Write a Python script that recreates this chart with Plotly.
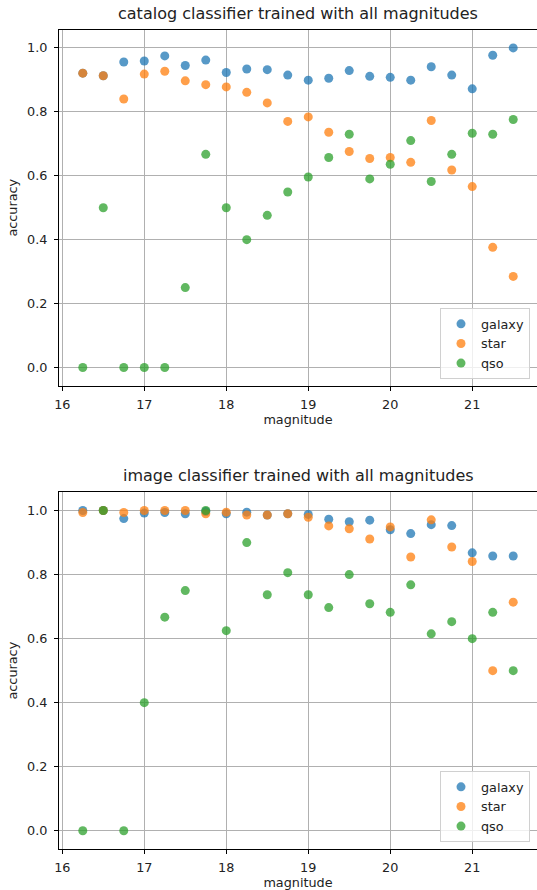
import plotly.graph_objects as go

magnitudes = [16.25, 16.5, 16.75, 17.0, 17.25, 17.5, 17.75, 18.0, 18.25, 18.5, 18.75,
              19.0, 19.25, 19.5, 19.75, 20.0, 20.25, 20.5, 20.75, 21.0, 21.25, 21.5]

cat_galaxy = [0.921, 0.913, 0.956, 0.959, 0.975, 0.945, 0.962, 0.923, 0.934, 0.932, 0.915,
              0.899, 0.905, 0.929, 0.911, 0.908, 0.899, 0.941, 0.915, 0.872, 0.977, 1.0]
cat_star = [0.921, 0.913, 0.840, 0.918, 0.927, 0.897, 0.885, 0.878, 0.861, 0.828, 0.770,
            0.784, 0.736, 0.676, 0.654, 0.657, 0.642, 0.773, 0.618, 0.566, 0.376, 0.285]
cat_qso = [0.0, 0.5, 0.0, 0.0, 0.0, 0.25, 0.667, 0.5, 0.4, 0.476, 0.549,
           0.596, 0.657, 0.730, 0.590, 0.636, 0.710, 0.582, 0.667, 0.733, 0.730, 0.776]

img_galaxy = [1.0, 1.0, 0.975, 0.992, 0.994, 0.990, 0.997, 0.990, 0.995, 0.986, 0.990,
              0.988, 0.973, 0.965, 0.970, 0.940, 0.928, 0.956, 0.953, 0.868, 0.858, 0.858]
img_star = [0.994, 1.0, 0.994, 1.0, 1.0, 1.0, 0.990, 0.995, 0.986, 0.986, 0.990,
            0.979, 0.952, 0.943, 0.911, 0.949, 0.855, 0.971, 0.886, 0.841, 0.500, 0.714]
img_qso = [0.0, 1.0, 0.0, 0.4, 0.667, 0.75, 1.0, 0.625, 0.9, 0.737, 0.806,
           0.737, 0.697, 0.8, 0.709, 0.682, 0.768, 0.615, 0.653, 0.6, 0.682, 0.5]

series_names = ["galaxy", "star", "qso"]
titles = ["catalog classifier trained with all magnitudes",
          "image classifier trained with all magnitudes"]

colors = ["#1f77b4", "#ff7f0e", "#2ca02c"]
FONT = "DejaVu Sans"
W, H = 537, 890

fig = go.Figure()

panels = [
    ("x", "y", "legend", [cat_galaxy, cat_star, cat_qso]),
    ("x2", "y2", "legend2", [img_galaxy, img_star, img_qso]),
]
for xa, ya, lg, vals in panels:
    for name, v, c in zip(series_names, vals, colors):
        fig.add_trace(go.Scatter(
            x=magnitudes, y=v, mode="markers", name=name,
            xaxis=xa, yaxis=ya, legend=lg,
            marker=dict(color=c, size=9, opacity=0.75, line=dict(width=0)),
        ))

# pixel geometry
left, right = 59, 537
top_dom = [(H - 385.7) / H, (H - 29.7) / H]
bot_dom = [(H - 849) / H, (H - 492.3) / H]

xaxis_common = dict(
    range=[15.96, 21.79], tick0=16, dtick=1, showgrid=True, gridcolor="#b0b0b0",
    gridwidth=1, zeroline=False, showline=True, linecolor="black", linewidth=1,
    mirror=True, ticks="outside", ticklen=4, tickcolor="black", automargin=False,
    ticklabelstandoff=3,
    tickfont=dict(family=FONT, size=12.8, color="#222"),
    title=dict(text="magnitude", font=dict(family=FONT, size=12.8, color="#222"), standoff=3),
)
yaxis_common = dict(
    range=[-0.057, 1.057], tick0=0, dtick=0.2, tickformat=".1f", showgrid=True,
    gridcolor="#b0b0b0", gridwidth=1, zeroline=False, showline=True, linecolor="black",
    linewidth=1, mirror=True, ticks="outside", ticklen=4, tickcolor="black",
    automargin=False, ticklabelstandoff=4,
    tickfont=dict(family=FONT, size=12.8, color="#222"),
    title=dict(text="accuracy", font=dict(family=FONT, size=12.8, color="#222"), standoff=6),
)

legend_common = dict(
    bgcolor="rgba(255,255,255,0.8)", bordercolor="#d0d0d0", borderwidth=1,
    font=dict(family=FONT, size=12.8, color="#222"), itemsizing="trace",
    xanchor="right", yanchor="bottom", tracegroupgap=0,
)

fig.update_layout(
    width=W, height=H, autosize=False,
    margin=dict(l=left, r=W - right, t=0, b=0, autoexpand=False),
    paper_bgcolor="white", plot_bgcolor="white",
    showlegend=True,
    xaxis=dict(domain=[0, 1], anchor="y", **xaxis_common),
    yaxis=dict(domain=top_dom, anchor="x", **yaxis_common),
    xaxis2=dict(domain=[0, 1], anchor="y2", **xaxis_common),
    yaxis2=dict(domain=bot_dom, anchor="x2", **yaxis_common),
    legend=dict(x=(530 - left) / (right - left), y=(H - 379) / H, **legend_common),
    legend2=dict(x=(530 - left) / (right - left), y=(H - 842) / H, **legend_common),
    annotations=[
        dict(text=titles[0], x=0.5, xref="paper", y=top_dom[1], yref="paper",
             xanchor="center", yanchor="bottom", yshift=5, showarrow=False,
             font=dict(family=FONT, size=16, color="#222")),
        dict(text=titles[1], x=0.5, xref="paper", y=bot_dom[1], yref="paper",
             xanchor="center", yanchor="bottom", yshift=5, showarrow=False,
             font=dict(family=FONT, size=16, color="#222")),
    ],
)

fig.write_html("out.html", config={"displayModeBar": False},
               post_script="document.body.style.margin='0';")
